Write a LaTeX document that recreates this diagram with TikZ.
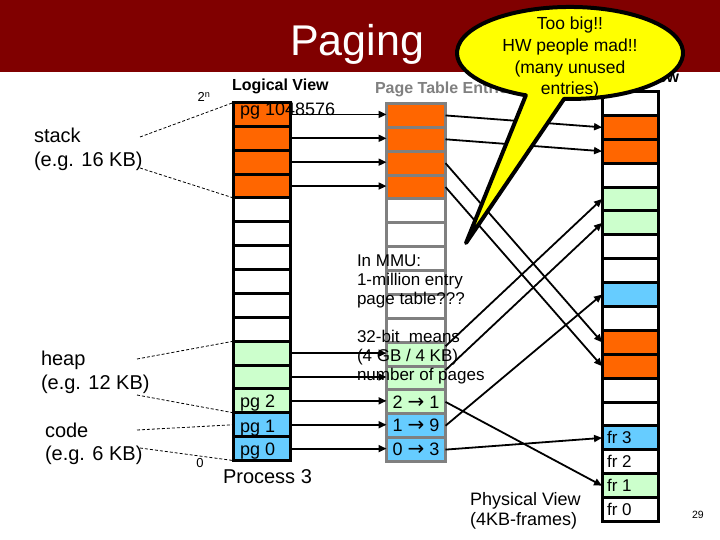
\documentclass[tikz,border=0pt]{standalone}
\usepackage{fontspec}
\setmainfont{Liberation Sans}
\newfontfamily\arrowfont{DejaVu Sans}
\usetikzlibrary{arrows.meta,calc}
\definecolor{titlered}{RGB}{128,0,0}
\definecolor{orng}{RGB}{255,102,0}
\definecolor{lgreen}{RGB}{204,255,204}
\definecolor{lblue}{RGB}{102,204,255}
\definecolor{ptgray}{RGB}{128,128,128}
\definecolor{callyellow}{RGB}{255,255,0}
\newcommand{\mapto}{ {\arrowfont\fontsize{20}{20}\selectfont →} }
\begin{document}
\begin{tikzpicture}[x=1pt,y=-1pt,
  fs/.style={font=\fontsize{#1}{#1}\selectfont},
  fsb/.style={font=\fontsize{#1}{#1}\selectfont\bfseries},
  txt/.style={inner sep=0pt, outer sep=0pt},
  lcell/.style={draw=black, line width=3pt, minimum width=57pt, minimum height=23.87pt, inner sep=0pt, outer sep=0pt},
  pcell/.style={draw=ptgray, line width=3pt, minimum width=59pt, minimum height=23.87pt, inner sep=0pt, outer sep=0pt},
  fcell/.style={draw=black, line width=3pt, minimum width=56.5pt, minimum height=23.89pt, inner sep=0pt, outer sep=0pt},
  arr/.style={draw=black, line width=1.8pt, -{Triangle[length=8pt,width=7pt]}},
  dsh/.style={draw=black, line width=0.8pt, dash pattern=on 3pt off 2pt}
]
\useasboundingbox (0,0) rectangle (720,540);
\fill[white] (0,0) rectangle (720,540);
% title bar
\fill[titlered] (0,0) rectangle (720,72);
\node[txt, fs=43, text=white, anchor=base] (title) at (357,56) {Paging};

% column headers
\node[txt, fsb=16, anchor=base west] (lview) at (232,91) {Logical View};
\node[txt, fsb=16, text=ptgray, anchor=base west] (ptview) at (375,94) {Page Table Entries};
\node[txt, fsb=16, anchor=base east] (phview) at (679,83) {View};

% logical and page table columns
\foreach \i/\c in {0/orng,1/orng,2/orng,3/orng,4/white,5/white,6/white,7/white,8/white,9/white,10/lgreen,11/lgreen,12/lgreen,13/lblue,14/lblue}{
  \node[lcell, fill=\c] (L\i) at (262, {102.5+23.87*(\i+0.5)}) {};
  \node[pcell, fill=\c] (P\i) at (416, {103.5+23.87*(\i+0.5)}) {};
}
% physical column
\foreach \i/\c in {0/white,1/orng,2/orng,3/white,4/lgreen,5/lgreen,6/white,7/white,8/lblue,9/white,10/orng,11/orng,12/white,13/white,14/lblue,15/white,16/lgreen,17/white}{
  \node[fcell, fill=\c] (F\i) at (630.3, {91.5+23.89*(\i+0.5)}) {};
}

% cell labels
\node[txt, fs=18, anchor=base west] (pgtop) at (240,116) {pg 1048576};
\node[txt, fs=18, anchor=base west] (pg2) at (240,407) {pg 2};
\node[txt, fs=18, anchor=base west] (pg1) at (240,432) {pg 1};
\node[txt, fs=18, anchor=base west] (pg0) at (240,455) {pg 0};
\node[txt, fs=18] (m12) at (P12) {2\mapto1};
\node[txt, fs=18] (m13) at (P13) {1\mapto9};
\node[txt, fs=18] (m14) at (P14) {0\mapto3};
\node[txt, fs=17, anchor=west] (fr3) at ($(F14.west)+(5,0)$) {fr 3};
\node[txt, fs=17, anchor=west] (fr2) at ($(F15.west)+(5,0)$) {fr 2};
\node[txt, fs=17, anchor=west] (fr1) at ($(F16.west)+(5,0)$) {fr 1};
\node[txt, fs=17, anchor=west] (fr0) at ($(F17.west)+(5,0)$) {fr 0};

% left labels
\node[txt, fs=13, anchor=base] (twon) at (204,102) {2\textsuperscript{n}};
\node[txt, fs=13, anchor=base] (zero) at (200,467) {0};
\node[txt, fs=20, anchor=base west] (stack1) at (34,143) {stack};
\node[txt, fs=20, anchor=base west] (stack2) at (34,167) {(e.g. 16 KB)};
\node[txt, fs=20, anchor=base west] (heap1) at (41,365) {heap};
\node[txt, fs=20, anchor=base west] (heap2) at (41,389) {(e.g. 12 KB)};
\node[txt, fs=20, anchor=base west] (code1) at (45,437) {code};
\node[txt, fs=20, anchor=base west] (code2) at (45,460) {(e.g. 6 KB)};

% bottom labels
\node[txt, fs=20, anchor=base west] (proc) at (223,483) {Process 3};
\node[txt, fs=18, anchor=base west] (phys1) at (470,505) {Physical View};
\node[txt, fs=18, anchor=base west] (phys2) at (470,525) {(4KB-frames)};
\node[txt, fs=10.5, anchor=base west] (pnum) at (692,518) {29};

% middle notes
\node[txt, fs=17, anchor=base west] (n1) at (357,266) {In MMU:};
\node[txt, fs=17, anchor=base west] (n2) at (357,285) {1-million entry};
\node[txt, fs=17, anchor=base west] (n3) at (357,304) {page table???};
\node[txt, fs=17, anchor=base west] (n4) at (357,342) {32-bit\ \ means};
\node[txt, fs=17, anchor=base west] (n5) at (357,361) {(4 GB / 4 KB)};
\node[txt, fs=17, anchor=base west] (n6) at (357,380) {number of pages};

% logical -> page table arrows
\foreach \i in {0,1,2,3,10,11,12,13,14}{
  \draw[arr] (L\i.east) -- (L\i.east -| P\i.west);
}
% page table -> physical arrows
\draw[arr] (P0.east) -- (F1.west);
\draw[arr] (P1.east) -- (F2.west);
\draw[arr] (P2.east) -- (F10.west);
\draw[arr] (P3.east) -- (F11.west);
\draw[arr] (P10.15) -- (F4.west);
\draw[arr] (P11.15) -- (F5.west);
\draw[arr] (P12.east) -- (F16.west);
\draw[arr] (P13.east) -- (F8.west);
\draw[arr] (P14.east) -- (F14.west);

% dashed region markers
\coordinate (s1) at (140,137);
\coordinate (s2) at (140,168);
\coordinate (h1) at (137,359);
\coordinate (h2) at (137,395);
\coordinate (c1) at (137,430);
\coordinate (c2) at (140,448);
\draw[dsh] (s1) -- (L0.north west);
\draw[dsh] (s2) -- (L3.south west);
\draw[dsh] (h1) -- (L10.north west);
\draw[dsh] (h2) -- (L12.south west);
\draw[dsh] (c1) -- (L13.west);
\draw[dsh] (c2) -- (L14.south west);

% callout
\filldraw[fill=callyellow, draw=black, line width=4pt, line join=round]
  (564.1,98.9) arc[start angle=93, end angle=-247, x radius=113, y radius=46] -- (466,243) -- cycle;
\node[txt, fs=17.5, anchor=base] (cl1) at (570,30) {Too big!!};
\node[txt, fs=17.5, anchor=base] (cl2) at (570,52) {HW people mad!!};
\node[txt, fs=17.5, anchor=base] (cl3) at (570,74) {(many unused};
\node[txt, fs=17.5, anchor=base] (cl4) at (570,95) {entries)};
\end{tikzpicture}
\end{document}
